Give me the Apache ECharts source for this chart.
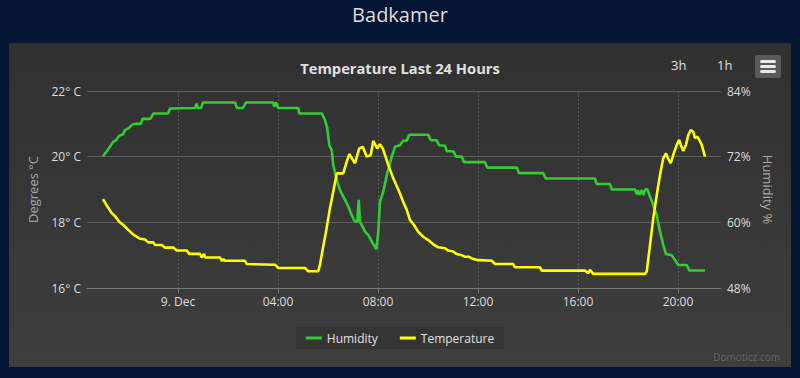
<!DOCTYPE html>
<html lang="en">
  <head>
    <meta charset="UTF-8" />
    <title>Badkamer</title>
    <script src="https://cdn.jsdelivr.net/npm/echarts@6/dist/echarts.min.js"></script>
    <style>
      html, body { margin: 0; padding: 0; background: #041633; }
      #main { width: 800px; height: 378px; }
    </style>
  </head>
  <body>
    <div id="main"></div>
    <script>
      // hours relative to midnight of 9 Dec
      const tempHours = [-3.00,-2.85,-2.65,-2.52,-2.35,-2.19,-1.99,-1.79,-1.55,-1.32,-1.19,-0.99,-0.92,-0.65,-0.52,-0.19,-0.05,0.35,0.45,0.88,0.95,1.04,1.08,1.68,1.76,1.82,1.88,2.68,2.75,3.88,4.01,5.08,5.21,5.61,5.68,5.79,5.92,6.08,6.21,6.35,6.61,6.75,6.85,7.08,7.25,7.39,7.55,7.71,7.81,7.97,8.08,8.19,8.41,8.61,8.85,9.01,9.15,9.28,9.44,9.61,9.81,10.01,10.21,10.41,10.68,10.81,11.01,11.12,11.35,11.48,11.64,11.75,11.97,12.08,12.55,12.68,13.41,13.48,14.48,14.55,16.28,16.41,16.48,16.61,18.68,18.75,18.88,19.01,19.15,19.28,19.41,19.52,19.61,19.71,19.81,19.95,20.05,20.11,20.21,20.32,20.41,20.51,20.61,20.68,20.77,20.85,20.95,21.08];
      const tempValues = [18.71,18.51,18.28,18.19,18.02,17.92,17.77,17.63,17.51,17.48,17.39,17.39,17.31,17.31,17.23,17.23,17.14,17.14,17.04,17.04,16.93,17.04,16.93,16.93,16.82,16.88,16.83,16.83,16.73,16.71,16.61,16.61,16.51,16.51,16.71,17.19,17.71,18.44,18.93,19.49,19.49,19.85,20.08,19.80,20.25,20.30,20.00,20.05,20.48,20.25,20.38,20.25,19.75,19.34,18.93,18.62,18.38,18.07,17.92,17.71,17.56,17.46,17.33,17.24,17.21,17.14,17.11,17.04,17.00,16.95,16.95,16.90,16.85,16.85,16.83,16.73,16.73,16.63,16.63,16.53,16.53,16.45,16.55,16.43,16.43,16.50,17.31,18.12,18.83,19.44,19.95,20.10,19.93,19.80,20.05,20.36,20.51,20.36,20.17,20.36,20.66,20.81,20.76,20.56,20.61,20.51,20.36,20.00];

      const humHours = [-3.00,-2.92,-2.84,-2.76,-2.68,-2.60,-2.48,-2.36,-2.20,-2.12,-2.00,-1.84,-1.74,-1.48,-1.42,-1.12,-1.08,-0.98,-0.40,-0.32,0.68,0.74,0.80,0.92,1.00,2.28,2.36,2.60,2.72,3.81,3.85,3.92,4.01,4.81,4.85,5.75,5.88,5.97,6.05,6.15,6.21,6.35,6.48,6.68,6.81,6.95,7.08,7.17,7.23,7.28,7.39,7.48,7.61,7.75,7.88,7.94,8.01,8.08,8.21,8.35,8.55,8.68,8.88,9.01,9.15,9.25,10.01,10.11,10.35,10.44,10.68,10.75,11.01,11.12,11.35,11.44,12.28,12.37,13.55,13.64,14.61,14.71,16.68,16.75,17.28,17.35,18.28,18.35,18.39,18.45,18.55,18.61,18.68,18.77,18.88,19.01,19.15,19.28,19.41,19.52,19.75,19.88,20.01,20.35,20.45,21.08];
      const humValues = [72.0,72.6,73.0,73.6,74.1,74.7,75.0,75.8,76.1,76.9,77.1,77.8,78.0,78.0,78.9,78.9,79.1,79.9,79.9,80.8,80.9,81.7,80.9,80.9,81.9,81.9,80.9,80.9,81.9,81.9,81.1,81.9,80.9,80.9,79.9,79.9,78.7,77.2,74.1,73.2,70.5,67.7,65.9,64.1,62.9,61.3,60.1,60.1,64.1,60.0,59.2,58.3,57.7,56.5,55.5,55.1,58.3,63.8,65.6,68.6,72.0,73.8,74.1,74.9,74.9,76.0,76.0,75.0,75.0,74.1,74.0,73.0,73.0,72.0,72.0,71.0,71.0,70.0,70.0,69.0,69.0,68.0,68.0,67.0,67.0,66.0,66.0,65.1,65.9,65.0,65.9,65.0,65.9,66.1,64.7,63.2,61.3,58.3,55.9,54.2,54.0,53.1,52.2,52.2,51.2,51.2];

      const tickHours = [0, 4, 8, 12, 16, 20];
      const tickLabels = ["9. Dec", "04:00", "08:00", "12:00", "16:00", "20:00"];
      const axisStartHour = -3.64;
      const axisEndHour = 21.72;

      const pairs = (hours, values) => hours.map((h, i) => [h, values[i]]);
      const hourLabel = (value) => {
        const i = tickHours.indexOf(Math.round(value * 100) / 100);
        return i >= 0 ? tickLabels[i] : "";
      };

      const font = "'Open Sans', 'Liberation Sans', sans-serif";

      const option = {
        backgroundColor: "#041633",
        textStyle: { fontFamily: font },
        animation: false,
        title: [
          {
            text: "Badkamer",
            left: "center",
            top: 3,
            padding: 0,
            textStyle: { color: "#dcdcdc", fontSize: 20, lineHeight: 22, fontWeight: "normal", fontFamily: font },
          },
          {
            text: "Temperature Last 24 Hours",
            left: "center",
            top: 60,
            padding: 0,
            textStyle: { color: "#e0e0e0", fontSize: 14.7, fontWeight: "bold", fontFamily: font },
          },
        ],
        graphic: [
          {
            type: "rect",
            z: -10,
            shape: { x: 9, y: 43, width: 782, height: 324 },
            style: {
              fill: {
                type: "linear", x: 0, y: 0, x2: 0, y2: 1,
                colorStops: [
                  { offset: 0, color: "#303030" },
                  { offset: 1, color: "#3e3e3e" },
                ],
              },
            },
          },
          { type: "text", left: 671, top: 58, style: { text: "3h", fill: "#e0e0e0", font: "13px " + font } },
          { type: "text", left: 717, top: 58, style: { text: "1h", fill: "#e0e0e0", font: "13px " + font } },
          {
            type: "group",
            left: 755,
            top: 55,
            children: [
              { type: "rect", shape: { x: 0, y: 0, width: 26, height: 23, r: 2 }, style: { fill: "#5a5a5a" } },
              { type: "rect", shape: { x: 5, y: 5, width: 16, height: 3, r: 1.5 }, style: { fill: "#e8e8e8" } },
              { type: "rect", shape: { x: 5, y: 10, width: 16, height: 3, r: 1.5 }, style: { fill: "#e8e8e8" } },
              { type: "rect", shape: { x: 5, y: 15, width: 16, height: 3, r: 1.5 }, style: { fill: "#e8e8e8" } },
            ],
          },
          {
            type: "text",
            right: 20,
            top: 352,
            style: { text: "Domoticz.com", fill: "#666666", font: "10px " + font },
          },
        ],
        legend: {
          data: ["Humidity", "Temperature"],
          left: "center",
          top: 327,
          icon: "rect",
          itemWidth: 16,
          itemHeight: 3,
          itemGap: 22,
          padding: [5, 10],
          backgroundColor: "rgba(0,0,0,0.12)",
          textStyle: { color: "#e0e0e0", fontSize: 12, fontFamily: font },
        },
        grid: { left: 87, right: 79, top: 91, bottom: 90 },
        xAxis: {
          type: "value",
          min: axisStartHour,
          max: axisEndHour,
          axisLine: { lineStyle: { color: "#777777" } },
          axisTick: {
            length: 5,
            lineStyle: { color: "#777777" },
            customValues: tickHours,
          },
          axisLabel: {
            color: "#dddddd",
            fontSize: 12,
            margin: 7,
            customValues: tickHours,
            formatter: hourLabel,
          },
          splitLine: {
            show: true,
            lineStyle: { color: "#5a5a5a", type: [2, 2] },
          },
        },
        yAxis: [
          {
            type: "value",
            min: 16,
            max: 22,
            interval: 2,
            name: "Degrees °C",
            nameLocation: "middle",
            nameGap: 48,
            nameTextStyle: { color: "#a8a8a8", fontSize: 13, fontFamily: font },
            axisLine: { show: false },
            axisTick: { show: false },
            axisLabel: { color: "#dddddd", fontSize: 12, margin: 6, formatter: "{value}° C" },
            splitLine: { lineStyle: { color: "#5e5e5e", width: 1 } },
          },
          {
            type: "value",
            min: 48,
            max: 84,
            interval: 12,
            name: "Humidity %",
            nameLocation: "middle",
            nameRotate: -90,
            nameGap: 40,
            nameTextStyle: { color: "#a8a8a8", fontSize: 13, fontFamily: font },
            axisLine: { show: false },
            axisTick: { show: false },
            axisLabel: { color: "#dddddd", fontSize: 12, margin: 6, formatter: "{value}%" },
            splitLine: { show: false },
          },
        ],
        series: [
          {
            name: "Humidity",
            type: "line",
            yAxisIndex: 1,
            data: pairs(humHours, humValues),
            showSymbol: false,
            color: "#33cc33",
            lineStyle: { width: 2.6, color: "#33cc33" },
          },
          {
            name: "Temperature",
            type: "line",
            yAxisIndex: 0,
            data: pairs(tempHours, tempValues),
            showSymbol: false,
            color: "#ffff00",
            lineStyle: { width: 2.6, color: "#ffff00" },
          },
        ],
      };

      const chart = echarts.init(document.getElementById("main"), null, { renderer: "svg" });
      chart.setOption(option);
    </script>
  </body>
</html>
